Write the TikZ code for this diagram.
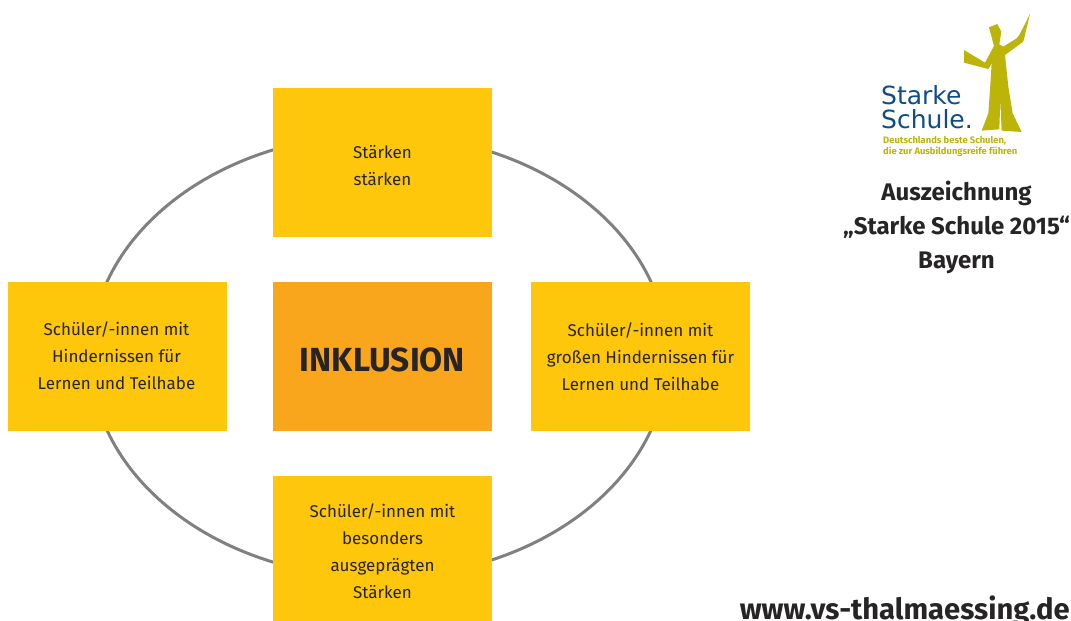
\documentclass[tikz,border=0pt]{standalone}
\usepackage{fontspec}
\setmainfont{Fira Sans}
\newfontfamily\logofont{DejaVu Sans}
\definecolor{boxyellow}{HTML}{FEC70C}
\definecolor{boxorange}{HTML}{F9A61C}
\definecolor{ringgray}{HTML}{808080}
\definecolor{inkdark}{HTML}{272426}
\definecolor{logoblue}{HTML}{0F4C8A}
\definecolor{logoolive}{HTML}{BDB40A}
\tikzset{
  tile/.style={fill=boxyellow,draw=none,minimum width=219pt,minimum height=149pt,inner sep=0pt},
  tiletext/.style={inner sep=0pt,align=center,text=inkdark,font=\fontsize{17}{27}\selectfont},
  heading/.style={inner sep=0pt,align=center,text=inkdark,font=\fontsize{24}{34}\selectfont\bfseries},
}
\begin{document}
\begin{tikzpicture}[x=1pt,y=-1pt]
\useasboundingbox (0,0) rectangle (1071,621);
\clip (0,0) rectangle (1071,621);
\fill[white] (0,0) rectangle (1071,621);
\draw[ringgray,line width=3pt] (379,356) ellipse [x radius=288.6pt,y radius=221.5pt];
\node[tile] (top) at (382.5,162.5) {};
\node[tile] (left) at (117.5,356.5) {};
\node[tile] (right) at (640.5,356.5) {};
\node[tile,minimum height=145pt] (bottom) at (382.5,548.5) {};
\node[tile,fill=boxorange] (center) at (382.5,356.5) {};
\node[tiletext] (toptext) at ([yshift=-3.5pt]top.center) {Stärken\\stärken};
\node[tiletext] (lefttext) at ([xshift=-1pt,yshift=1pt]left.center) {Schüler/-innen mit\\Hindernissen für\\Lernen und Teilhabe};
\node[tiletext] (righttext) at (right.center) {Schüler/-innen mit\\großen Hindernissen für\\Lernen und Teilhabe};
\node[tiletext] (bottomtext) at ([yshift=-3pt]bottom.center) {Schüler/-innen mit\\besonders\\ausgeprägten\\Stärken};
\node[tiletext,font=\fontsize{33.4}{40}\selectfont\bfseries] (centertext) at ([yshift=-3.5pt]center.center) {INKLUSION};
\begin{scope}[shift={(860,0)},x=0.3333pt,y=-0.3333pt]
\fill[logoolive] (387,82) -- (412,72) -- (424,95) -- (418,133) -- (430,140) -- (470,115) -- (478,105) -- (510,42) -- (490,125) -- (435,165) -- (445,260) -- (458,340) -- (485,396) -- (425,392) -- (421,300) -- (418,388) -- (365,392) -- (385,340) -- (390,270) -- (395,190) -- (385,207) -- (312,188) -- (312,150) -- (375,188) -- (402,138) -- cycle;
\end{scope}
\node[inner sep=0pt,align=left,anchor=west,text=logoblue,font=\fontsize{25}{24}\selectfont\logofont] (logoname) at (881,107) {Starke\\Schule.};
\node[inner sep=0pt,align=left,anchor=west,text=logoolive,font=\fontsize{9.4}{11}\selectfont\bfseries] (logotag) at (883,146.5) {Deutschlands beste Schulen,\\die zur Ausbildungsreife führen};
\node[heading] (award) at (956.5,227) {Auszeichnung\\„Starke Schule 2015“\\Bayern};
\node[anchor=base east,inner sep=0pt,text=inkdark,font=\fontsize{29.2}{34}\selectfont\bfseries] (web) at (1070,619) {www.vs-thalmaessing.de};
\end{tikzpicture}
\end{document}
